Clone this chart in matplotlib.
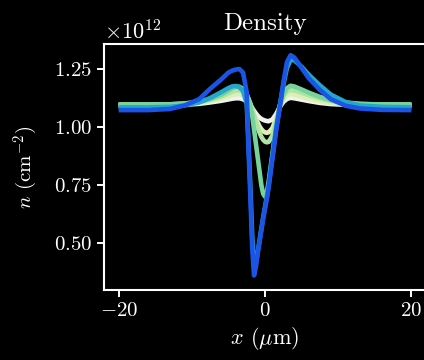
import numpy as np
import matplotlib
matplotlib.use('Agg')
import matplotlib.pyplot as plt

plt.rcParams['font.family'] = 'serif'
plt.rcParams['font.serif'] = ['cmr10']
plt.rcParams['mathtext.fontset'] = 'cm'
plt.rcParams['axes.formatter.use_mathtext'] = True

# positions along x (um)
x_um = [-20, -16, -13, -11, -9, -7.5, -6, -5, -4.5, -4, -3.5, -3, -2.5, -2.25, -2,
        -1.75, -1.5, -1.25, -1, -0.75, -0.5, -0.25, 0, 0.25, 0.5, 1, 1.5, 2, 2.5,
        3, 3.5, 4, 5, 6, 7.5, 9, 11, 13, 16, 20]

# density curves, units of 1e12 cm^-2
n_white = [1.093, 1.093, 1.094, 1.096, 1.100, 1.106, 1.113, 1.119, 1.122, 1.124,
           1.124, 1.120, 1.110, 1.102, 1.093, 1.082, 1.070, 1.059, 1.049, 1.041,
           1.035, 1.031, 1.028, 1.026, 1.025, 1.032, 1.055, 1.085, 1.108, 1.121,
           1.126, 1.124, 1.118, 1.112, 1.104, 1.099, 1.096, 1.094, 1.093, 1.093]
n_yellow = [1.095, 1.095, 1.096, 1.099, 1.104, 1.112, 1.122, 1.132, 1.138, 1.142,
            1.142, 1.137, 1.124, 1.112, 1.097, 1.078, 1.058, 1.038, 1.020, 1.003,
            0.991, 0.982, 0.977, 0.975, 0.977, 0.995, 1.035, 1.085, 1.118, 1.136,
            1.143, 1.140, 1.131, 1.122, 1.111, 1.103, 1.098, 1.096, 1.095, 1.095]
n_lightgreen = [1.097, 1.097, 1.098, 1.101, 1.107, 1.117, 1.131, 1.145, 1.153, 1.158,
                1.158, 1.152, 1.137, 1.122, 1.102, 1.078, 1.050, 1.024, 0.998, 0.976,
                0.958, 0.945, 0.937, 0.934, 0.936, 0.962, 1.020, 1.090, 1.132, 1.153,
                1.160, 1.158, 1.148, 1.137, 1.123, 1.112, 1.103, 1.099, 1.097, 1.097]
n_green = [1.097, 1.097, 1.098, 1.102, 1.109, 1.121, 1.139, 1.158, 1.168, 1.174,
           1.174, 1.165, 1.143, 1.120, 1.090, 1.050, 0.990, 0.930, 0.870, 0.810,
           0.750, 0.712, 0.700, 0.718, 0.765, 0.880, 1.000, 1.090, 1.140, 1.168,
           1.178, 1.175, 1.162, 1.148, 1.130, 1.116, 1.106, 1.100, 1.097, 1.097]
n_teal = [1.085, 1.085, 1.087, 1.093, 1.106, 1.125, 1.150, 1.168, 1.175, 1.177,
          1.172, 1.155, 1.100, 0.930, 0.740, 0.530, 0.400, 0.410, 0.460, 0.510,
          0.560, 0.610, 0.655, 0.700, 0.750, 0.870, 0.990, 1.090, 1.180, 1.255,
          1.290, 1.288, 1.260, 1.225, 1.180, 1.140, 1.108, 1.093, 1.087, 1.085]
n_blue = [1.073, 1.073, 1.078, 1.093, 1.120, 1.165, 1.205, 1.235, 1.243, 1.248,
          1.250, 1.235, 1.150, 0.900, 0.700, 0.480, 0.360, 0.395, 0.455, 0.505,
          0.555, 0.605, 0.648, 0.690, 0.740, 0.860, 0.980, 1.080, 1.190, 1.280,
          1.310, 1.300, 1.255, 1.210, 1.160, 1.120, 1.092, 1.080, 1.074, 1.073]

curves = [n_white, n_yellow, n_lightgreen, n_green, n_teal, n_blue]
colors = ['#f2f2ec', '#dcefb4', '#b0e3a6', '#74d49a', '#25a6cc', '#1b55e6']

fig = plt.figure(figsize=(4.24, 3.6), dpi=100, facecolor='black')
ax = fig.add_axes([0.2453, 0.1944, 0.7594, 0.6833])
ax.set_facecolor('black')

for n, c in zip(curves, colors):
    ax.plot(x_um, np.array(n) * 1e12, color=c, lw=3.3, solid_capstyle='butt',
            solid_joinstyle='round')

ax.set_xlim(-22, 22)
ax.set_ylim(0.297e12, 1.358e12)
ax.set_xticks([-20, 0, 20])
ax.set_yticks([0.5e12, 0.75e12, 1.0e12, 1.25e12])

for s in ax.spines.values():
    s.set_color('white')
    s.set_linewidth(1.5)
ax.tick_params(colors='white', direction='out', length=5, width=1.4, labelsize=15)
ax.yaxis.get_offset_text().set_color('white')
ax.yaxis.get_offset_text().set_fontsize(16)

ax.set_title('Density', color='white', fontsize=18, pad=10)
ax.set_xlabel(r'$x$ ($\mu$m)', color='white', fontsize=16, labelpad=4)
ax.set_ylabel(r'$n$ (cm$^{-2}$)', color='white', fontsize=15, labelpad=10)

fig.savefig('out.png', dpi=100, facecolor='black')
